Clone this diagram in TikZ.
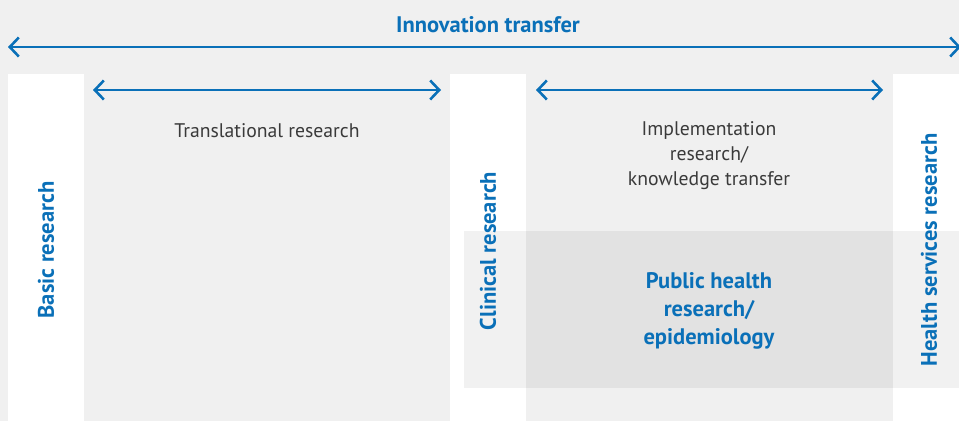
\documentclass[tikz,border=0pt]{standalone}
\usepackage{fontspec}
\setmainfont{PT Sans}
\usetikzlibrary{arrows.meta}
\definecolor{bgc}{HTML}{F0F0F0}
\definecolor{bluec}{HTML}{0A70B8}
\definecolor{greyt}{HTML}{3A3A3A}
\tikzset{
  strip/.style={fill=white, draw=none},
  overlay/.style={fill=black, fill opacity=0.055, draw=none},
  flow/.style={draw=bluec, line width=2.6pt, {Straight Barb[length=9pt,width=19pt,line width=2.6pt]}-{Straight Barb[length=9pt,width=19pt,line width=2.6pt]}},
  boldlbl/.style={text=bluec, font=\fontsize{22.5}{28}\selectfont\bfseries, align=center, inner sep=0pt},
  reglbl/.style={text=greyt, font=\fontsize{19.7}{25}\selectfont, align=center, inner sep=0pt},
  vlbl/.style={boldlbl, rotate=90}
}
\begin{document}
\begin{tikzpicture}[x=1pt,y=-1pt]
\useasboundingbox (0,0) rectangle (959,421);
\fill[bgc] (0,0) rectangle (959,421);
% white strips
\fill[strip] (8,74) rectangle (84,421);
\fill[strip] (450,74) rectangle (526,421);
\fill[strip] (893,74) rectangle (959,421);
% overlay
\fill[overlay] (464,231) rectangle (959,388);
% arrow end points
\coordinate (itL) at (8,47);
\coordinate (itR) at (961,47);
\coordinate (trL) at (93,90);
\coordinate (trR) at (441,90);
\coordinate (imL) at (536,90);
\coordinate (imR) at (883,90);
\draw[flow] (itL) -- (itR);
\draw[flow] (trL) -- (trR);
\draw[flow] (imL) -- (imR);
% labels
\node[boldlbl] (inno) at (488,25) {Innovation transfer};
\node[reglbl] (trans) at (267,131) {Translational research};
\node[reglbl] (impl) at (709,156) {Implementation\\research/\\knowledge transfer};
\node[boldlbl] (pub) at (709,311) {Public health\\research/\\epidemiology};
\node[vlbl] (basic) at (46,250) {Basic research};
\node[vlbl] (clin) at (488,251) {Clinical research};
\node[vlbl] (hsr) at (929,250) {Health services research};
\end{tikzpicture}
\end{document}
